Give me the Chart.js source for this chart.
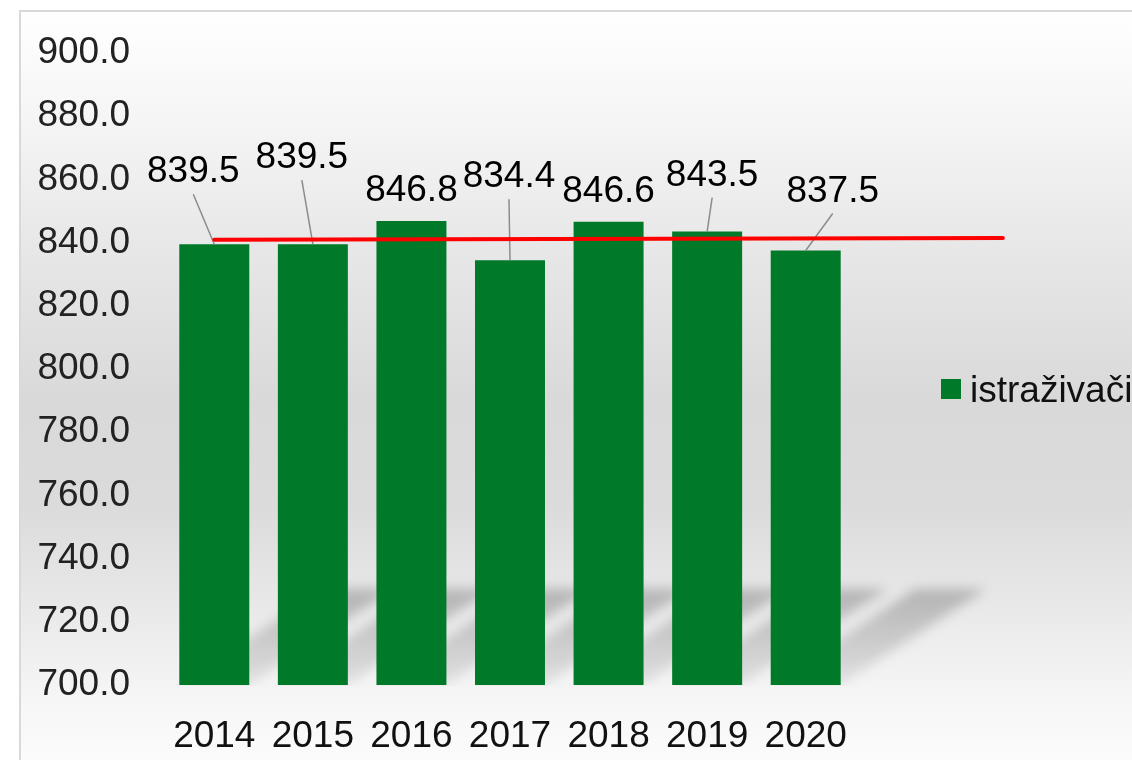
<!DOCTYPE html>
<html><head><meta charset="utf-8">
<script src="https://cdn.jsdelivr.net/npm/chart.js@4/dist/chart.umd.min.js"></script>
<style>html,body{margin:0;padding:0;background:#fff;overflow:hidden}canvas{display:block}</style>
</head><body>
<canvas id="c" width="1132" height="760"></canvas>
<script>
const years = ['2014', '2015', '2016', '2017', '2018', '2019', '2020'];
const researchers = [839.5, 839.5, 846.8, 834.4, 846.6, 843.5, 837.5];
const seriesName = 'istraživači';
const yMin = 700, yMax = 900, yStep = 20;
const trendForwardPeriods = 2;
// data-label placement relative to each bar's top centre: [dx, dy to text baseline]
const labelShift = [[-21, -62], [-11, -76], [0, -20], [-1, -73], [0, -20], [5, -46], [27, -49]];

const GREEN = '#007a29';
const FONT = '"Liberation Sans", Arial, sans-serif';

const bgPlugin = {
  id: 'bg',
  beforeDraw(chart) {
    const ctx = chart.ctx, W = chart.width, H = chart.height;
    ctx.save();
    ctx.fillStyle = '#ffffff';
    ctx.fillRect(0, 0, W, H);
    const g = ctx.createLinearGradient(0, 11, 0, H);
    g.addColorStop(0.00, '#ffffff');
    g.addColorStop(0.12, '#f7f7f7');
    g.addColorStop(0.32, '#e7e7e7');
    g.addColorStop(0.52, '#d9d9d9');
    g.addColorStop(0.66, '#dbdbdb');
    g.addColorStop(0.80, '#e9e9e9');
    g.addColorStop(0.93, '#f7f7f7');
    g.addColorStop(1.00, '#fbfbfb');
    ctx.fillStyle = g;
    ctx.fillRect(20, 11, W - 20, H - 11);
    ctx.strokeStyle = '#d9d9d9';
    ctx.lineWidth = 2;
    ctx.beginPath();
    ctx.moveTo(20, H); ctx.lineTo(20, 11); ctx.lineTo(W, 11);
    ctx.stroke();
    ctx.restore();
  }
};

const shadowPlugin = {
  id: 'barShadow',
  beforeDatasetsDraw(chart) {
    const ctx = chart.ctx;
    const meta = chart.getDatasetMeta(0);
    const base = chart.scales.y.getPixelForValue(yMin);
    ctx.save();
    ctx.beginPath();
    ctx.rect(chart.chartArea.left, 0, chart.width, base + 1);
    ctx.clip();
    ctx.filter = 'blur(6px)';
    meta.data.forEach(el => {
      const h = 95, dx = 145;
      const l = el.x - el.width / 2, r = el.x + el.width / 2, b = base - 1;
      const g = ctx.createLinearGradient(0, b - h, 0, b);
      g.addColorStop(0, 'rgba(0,0,0,0.22)');
      g.addColorStop(1, 'rgba(0,0,0,0.08)');
      ctx.fillStyle = g;
      ctx.beginPath();
      ctx.moveTo(l, b); ctx.lineTo(r, b);
      ctx.lineTo(r + dx, b - h); ctx.lineTo(l + dx, b - h);
      ctx.closePath();
      ctx.fill();
    });
    ctx.restore();
  }
};

const overlayPlugin = {
  id: 'overlay',
  afterDatasetsDraw(chart) {
    const ctx = chart.ctx;
    const xs = chart.scales.x, ys = chart.scales.y;
    const meta = chart.getDatasetMeta(0);
    const n = researchers.length;
    // leader lines
    ctx.save();
    ctx.strokeStyle = '#8c8c8c';
    ctx.lineWidth = 1.5;
    meta.data.forEach((el, i) => {
      const [dx, dy] = labelShift[i];
      if (dy < -30) {
        ctx.beginPath();
        ctx.moveTo(el.x + dx, el.y + dy + 12);
        ctx.lineTo(el.x, el.y);
        ctx.stroke();
      }
    });
    ctx.restore();
    // linear trendline, extended forward
    let sx = 0, sy = 0, sxx = 0, sxy = 0;
    researchers.forEach((v, i) => { sx += i; sy += v; sxx += i * i; sxy += i * v; });
    const slope = (n * sxy - sx * sy) / (n * sxx - sx * sx);
    const icpt = (sy - slope * sx) / n;
    const xEnd = n - 1 + trendForwardPeriods;
    ctx.save();
    ctx.strokeStyle = '#ff0000';
    ctx.lineWidth = 4;
    ctx.lineCap = 'round';
    ctx.beginPath();
    ctx.moveTo(xs.getPixelForValue(0), ys.getPixelForValue(icpt));
    ctx.lineTo(xs.getPixelForValue(xEnd), ys.getPixelForValue(icpt + slope * xEnd));
    ctx.stroke();
    ctx.restore();
    // value labels
    ctx.save();
    ctx.fillStyle = '#000000';
    ctx.font = '37px ' + FONT;
    ctx.textAlign = 'center';
    ctx.textBaseline = 'alphabetic';
    meta.data.forEach((el, i) => {
      const [dx, dy] = labelShift[i];
      ctx.fillText(researchers[i].toFixed(1), el.x + dx, el.y + dy);
    });
    ctx.restore();
  },
  afterDraw(chart) {
    const ctx = chart.ctx;
    ctx.save();
    ctx.fillStyle = GREEN;
    ctx.fillRect(941, 379, 20, 20);
    ctx.fillStyle = '#111111';
    ctx.font = '37px ' + FONT;
    ctx.textAlign = 'left';
    ctx.textBaseline = 'alphabetic';
    ctx.fillText(seriesName, 970, 402);
    ctx.restore();
  }
};

new Chart(document.getElementById('c'), {
  type: 'bar',
  data: {
    labels: years,
    datasets: [{
      label: seriesName,
      data: researchers,
      backgroundColor: GREEN,
      borderWidth: 0,
      barPercentage: 0.71,
      categoryPercentage: 1.0
    }]
  },
  options: {
    responsive: false,
    devicePixelRatio: 1,
    animation: false,
    layout: { padding: { left: 0, right: 277, top: 53, bottom: 0 } },
    plugins: { legend: { display: false }, tooltip: { enabled: false } },
    scales: {
      x: {
        grid: { display: false, drawTicks: false },
        border: { display: false },
        ticks: { color: '#111111', font: { family: FONT, size: 37 }, padding: 30, maxRotation: 0 },
        afterFit(s) { s.height = 75; s.paddingLeft = 0; s.paddingRight = 0; }
      },
      y: {
        min: yMin, max: yMax,
        grid: { display: false, drawTicks: false },
        border: { display: false },
        ticks: {
          stepSize: yStep,
          color: '#222222',
          font: { family: FONT, size: 37 },
          padding: 35,
          callback: v => Number(v).toFixed(1)
        },
        afterFit(s) { s.width = 165; s.paddingTop = 0; s.paddingBottom = 0; }
      }
    }
  },
  plugins: [bgPlugin, shadowPlugin, overlayPlugin]
});
</script>
</body></html>
